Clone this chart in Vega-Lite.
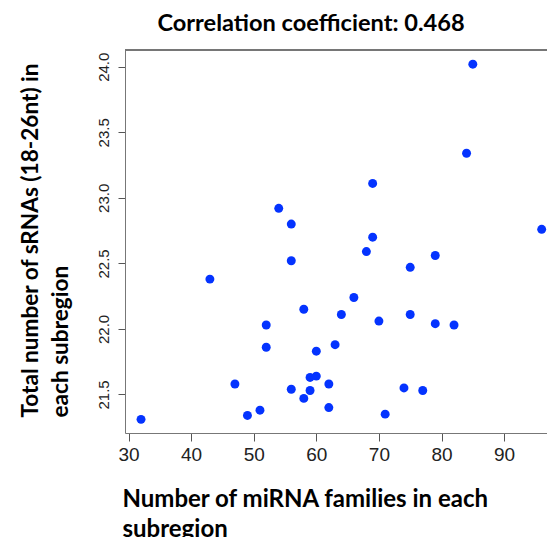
{
  "$schema": "https://vega.github.io/schema/vega-lite/v6.json",
  "autosize": {"type": "none"},
  "padding": {"left": 125, "top": 50, "right": 0, "bottom": 104},
  "width": 422,
  "height": 383,
  "background": "white",
  "config": {
    "view": {"stroke": null},
    "axis": {
      "grid": false,
      "domainColor": "#777",
      "domainWidth": 1,
      "tickColor": "#555",
      "labelFont": "Liberation Sans",
      "labelColor": "#222",
      "titleFont": "Lato",
      "titleFontWeight": "bold",
      "titleColor": "#000"
    }
  },
  "title": {
    "text": "Correlation coefficient: 0.468",
    "font": "Lato",
    "fontWeight": "bold",
    "fontSize": 23.6,
    "color": "#000",
    "anchor": "middle",
    "frame": "group",
    "baseline": "alphabetic",
    "offset": 17,
    "dx": -25,
    "dy": 22
  },
  "data": {
    "values": [
      {"families": 85, "srnas": 24.02},
      {"families": 84, "srnas": 23.34},
      {"families": 69, "srnas": 23.11},
      {"families": 54, "srnas": 22.92},
      {"families": 56, "srnas": 22.80},
      {"families": 96, "srnas": 22.76},
      {"families": 69, "srnas": 22.70},
      {"families": 68, "srnas": 22.59},
      {"families": 79, "srnas": 22.56},
      {"families": 56, "srnas": 22.52},
      {"families": 75, "srnas": 22.47},
      {"families": 43, "srnas": 22.38},
      {"families": 66, "srnas": 22.24},
      {"families": 58, "srnas": 22.15},
      {"families": 64, "srnas": 22.11},
      {"families": 75, "srnas": 22.11},
      {"families": 70, "srnas": 22.06},
      {"families": 52, "srnas": 22.03},
      {"families": 79, "srnas": 22.04},
      {"families": 82, "srnas": 22.03},
      {"families": 52, "srnas": 21.86},
      {"families": 63, "srnas": 21.88},
      {"families": 60, "srnas": 21.83},
      {"families": 59, "srnas": 21.63},
      {"families": 60, "srnas": 21.64},
      {"families": 47, "srnas": 21.58},
      {"families": 62, "srnas": 21.58},
      {"families": 56, "srnas": 21.54},
      {"families": 59, "srnas": 21.53},
      {"families": 74, "srnas": 21.55},
      {"families": 77, "srnas": 21.53},
      {"families": 58, "srnas": 21.47},
      {"families": 62, "srnas": 21.40},
      {"families": 51, "srnas": 21.38},
      {"families": 49, "srnas": 21.34},
      {"families": 71, "srnas": 21.35},
      {"families": 32, "srnas": 21.31}
    ]
  },
  "layer": [
    {
      "mark": {"type": "rule", "color": "#777", "strokeWidth": 1},
      "encoding": {"y": {"datum": 24.128, "type": "quantitative"}}
    },
    {
      "mark": {"type": "point", "filled": true, "shape": "circle", "size": 80, "color": "#0433ff", "opacity": 1},
      "encoding": {
        "x": {
          "field": "families",
          "type": "quantitative",
          "scale": {"domain": [29.44, 96.85], "nice": false, "zero": false},
          "axis": {
            "values": [30, 40, 50, 60, 70, 80, 90],
            "labelFontSize": 19,
            "tickSize": 8,
            "labelPadding": 4,
            "labelBaseline": "top",
            "labelFlush": false,
            "labelOverlap": false,
            "title": ["Number of miRNA families in each", "subregion"],
            "titleFontSize": 24,
            "titleLineHeight": 30,
            "titleAlign": "left",
            "titleBaseline": "alphabetic",
            "titleX": -3,
            "titleY": 73
          }
        },
        "y": {
          "field": "srnas",
          "type": "quantitative",
          "scale": {"domain": [21.206, 24.128], "nice": false, "zero": false},
          "axis": {
            "values": [21.5, 22.0, 22.5, 23.0, 23.5, 24.0],
            "format": ".1f",
            "labelFontSize": 15,
            "labelAngle": -90,
            "labelAlign": "center",
            "labelBaseline": "alphabetic",
            "tickSize": 7,
            "labelPadding": 10,
            "labelFlush": false,
            "labelOverlap": false,
            "title": ["Total number of sRNAs (18-26nt) in", "each subregion"],
            "titleFontSize": 22.6,
            "titleLineHeight": 30,
            "titleAngle": -90,
            "titleAlign": "left",
            "titleBaseline": "alphabetic",
            "titleX": -88,
            "titleY": 367
          }
        }
      }
    }
  ]
}
